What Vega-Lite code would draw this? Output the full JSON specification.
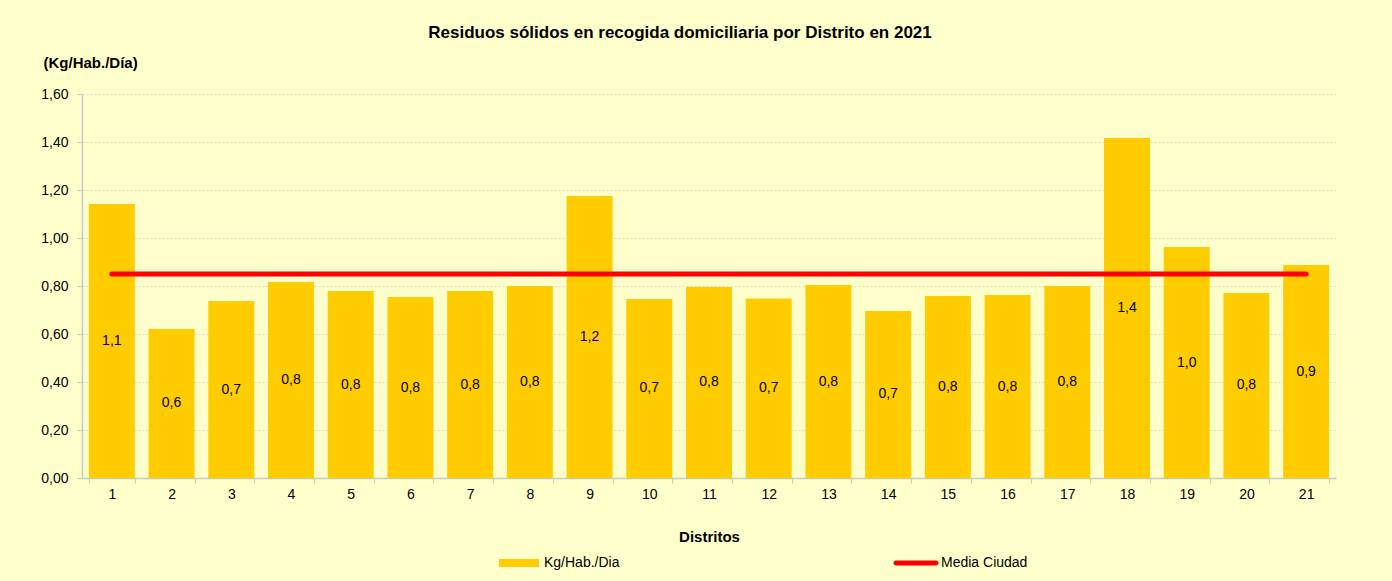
{
  "$schema": "https://vega.github.io/schema/vega-lite/v6.json",
  "width": 1254,
  "height": 384,
  "autosize": "none",
  "padding": {"left": 82, "top": 94, "right": 56, "bottom": 103},
  "background": "#FFFFCC",
  "title": {
    "text": "Residuos sólidos en recogida domiciliaria por Distrito en 2021",
    "anchor": "middle",
    "frame": "group",
    "dx": -29,
    "offset": 13,
    "fontSize": 17,
    "fontWeight": "bold",
    "font": "Liberation Sans",
    "color": "#000000"
  },
  "config": {
    "locale": {"number": {"decimal": ",", "thousands": ".", "grouping": [3], "currency": ["", " €"]}},
    "font": "Liberation Sans",
    "view": {"stroke": null},
    "axis": {"labelFont": "Liberation Sans", "titleFont": "Liberation Sans"}
  },
  "data": {
    "values": [
      {"distrito": "1", "valor": 1.142, "media": 0.85},
      {"distrito": "2", "valor": 0.621, "media": 0.85},
      {"distrito": "3", "valor": 0.737, "media": 0.85},
      {"distrito": "4", "valor": 0.817, "media": 0.85},
      {"distrito": "5", "valor": 0.779, "media": 0.85},
      {"distrito": "6", "valor": 0.754, "media": 0.85},
      {"distrito": "7", "valor": 0.779, "media": 0.85},
      {"distrito": "8", "valor": 0.8, "media": 0.85},
      {"distrito": "9", "valor": 1.175, "media": 0.85},
      {"distrito": "10", "valor": 0.746, "media": 0.85},
      {"distrito": "11", "valor": 0.796, "media": 0.85},
      {"distrito": "12", "valor": 0.748, "media": 0.85},
      {"distrito": "13", "valor": 0.804, "media": 0.85},
      {"distrito": "14", "valor": 0.696, "media": 0.85},
      {"distrito": "15", "valor": 0.758, "media": 0.85},
      {"distrito": "16", "valor": 0.762, "media": 0.85},
      {"distrito": "17", "valor": 0.8, "media": 0.85},
      {"distrito": "18", "valor": 1.417, "media": 0.85},
      {"distrito": "19", "valor": 0.962, "media": 0.85},
      {"distrito": "20", "valor": 0.771, "media": 0.85},
      {"distrito": "21", "valor": 0.887, "media": 0.85}
    ]
  },
  "encoding": {
    "x": {
      "field": "distrito",
      "type": "ordinal",
      "sort": null,
      "scale": {"paddingInner": 0.23, "paddingOuter": 0.115},
      "axis": {
        "title": "Distritos",
        "titleFontSize": 15,
        "titleFontWeight": "bold",
        "titleColor": "#000000",
        "titlePadding": 28,
        "labelAngle": 0,
        "labelFontSize": 14,
        "labelColor": "#000000",
        "labelPadding": 4,
        "tickBand": "extent",
        "tickSize": 5,
        "tickColor": "#C8C8C8",
        "domainColor": "#C8C8C8",
        "domainWidth": 1.5,
        "grid": false
      }
    }
  },
  "layer": [
    {
      "encoding": {
        "y": {
          "type": "quantitative",
          "scale": {"domain": [0, 1.6], "nice": false},
          "axis": {
            "title": "(Kg/Hab./Día)",
            "titleAngle": 0,
            "titleAlign": "left",
            "titleBaseline": "middle",
            "titleX": -39,
            "titleY": -32,
            "titleFontSize": 15,
            "titleFontWeight": "bold",
            "titleColor": "#000000",
            "format": ".2f",
            "values": [0, 0.2, 0.4, 0.6, 0.8, 1.0, 1.2, 1.4, 1.6],
            "labelFontSize": 14,
            "labelColor": "#000000",
            "labelPadding": 9,
            "tickSize": 5,
            "tickColor": "#C8C8C8",
            "domainColor": "#C8C8C8",
            "domainWidth": 1.5,
            "grid": true,
            "gridColor": "#DCDCC0",
            "gridDash": [2, 2]
          }
        }
      },
      "layer": [
        {
          "mark": {"type": "bar"},
          "encoding": {
            "y": {"field": "valor", "type": "quantitative"},
            "color": {"datum": "Kg/Hab./Dia"}
          }
        },
        {
          "mark": {"type": "line", "strokeWidth": 5, "strokeCap": "round"},
          "encoding": {
            "y": {"field": "media", "type": "quantitative"},
            "color": {
              "datum": "Media Ciudad",
              "scale": {"domain": ["Kg/Hab./Dia", "Media Ciudad"], "range": ["#FFCC00", "#FF0000"]},
              "legend": {
                "title": null,
                "orient": "none",
                "legendX": 417,
                "legendY": 449,
                "direction": "horizontal",
                "columns": 2,
                "columnPadding": 273,
                "labelFontSize": 14,
                "labelColor": "#000000",
                "labelFont": "Liberation Sans",
                "labelOffset": 5,
                "labelLimit": 300,
                "symbolSize": 1600,
                "symbolStrokeWidth": 0,
                "encode": {
                  "symbols": {
                    "update": {
                      "shape": [
                        {"test": "datum.value === 'Media Ciudad'", "value": "M-1,-0.125H1A0.125,0.125 0 0 1 1,0.125H-1A0.125,0.125 0 0 1 -1,-0.125Z"},
                        {"value": "M-1,-0.2H1V0.2H-1Z"}
                      ],
                      "fill": [
                        {"test": "datum.value === 'Media Ciudad'", "value": "#FF0000"},
                        {"value": "#FFCC00"}
                      ],
                      "stroke": {"value": "transparent"},
                      "strokeWidth": {"value": 0}
                    }
                  }
                }
              }
            }
          }
        }
      ]
    },
    {
      "mark": {"type": "text", "fontSize": 14, "color": "#000000", "baseline": "middle", "font": "Liberation Sans"},
      "encoding": {
        "y": {"field": "valor", "type": "quantitative", "scale": {"domain": [0, 3.2], "nice": false}, "axis": null},
        "text": {"field": "valor", "type": "quantitative", "format": ".1f"}
      }
    }
  ],
  "resolve": {"scale": {"y": "independent"}}
}
